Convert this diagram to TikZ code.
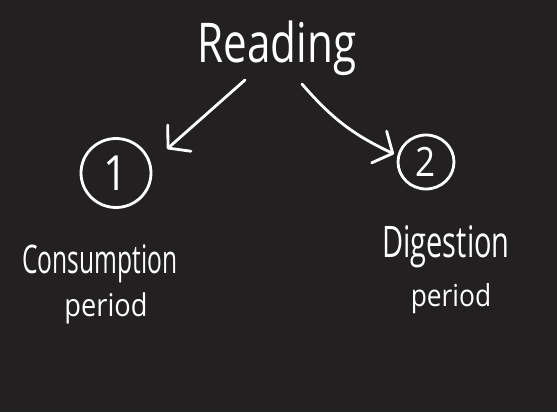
\documentclass[tikz,border=0pt]{standalone}
\usepackage{graphicx}
\usepackage{fontspec}
\setmainfont{Open Sans}
\usetikzlibrary{arrows.meta,shapes.geometric}
\definecolor{board}{RGB}{34,32,32}
\newcommand{\tallword}[2][1.3]{\scalebox{1}[#1]{#2}}

\begin{document}
\begin{tikzpicture}
  [x=0.02cm,y=-0.02cm,every node/.style={text=white,inner sep=0pt},
   chalk/.style={draw=white,line width=1.6pt,line cap=round},
   ring/.style={ellipse,chalk},
   word/.style={anchor=base},
   arr/.style={chalk,-{Straight Barb[length=3mm,width=7mm,round]}}]
  \fill[board] (0,0) rectangle (557,412);
  \useasboundingbox (0,0) rectangle (557,412);
  % title
  \node[word,font=\fontsize{24}{28}\selectfont] (read) at (277,63) {\tallword{Reading}};
  % numbered rings
  \node[ring,minimum width=1.4cm,minimum height=1.38cm,font=\fontsize{24}{28}\selectfont] (one) at (116,173) {\tallword[1.15]{1}};
  \node[ring,minimum width=1.12cm,minimum height=1.08cm,font=\fontsize{20}{24}\selectfont] (two) at (426,162) {\tallword[1.15]{2}};
  % labels
  \node[word,font=\fontsize{14}{16}\selectfont] (cons) at (100,273) {\tallword[1.6]{Consumption}};
  \node[word,font=\fontsize{15.5}{18}\selectfont] (consp) at (106,316) {\tallword[1.15]{period}};
  \node[word,font=\fontsize{16.5}{18}\selectfont] (dige) at (446,257) {\tallword[1.5]{Digestion}};
  \node[word,font=\fontsize{15}{18}\selectfont] (digep) at (451,306) {\tallword[1.15]{period}};
  % arrows
  \coordinate (a1) at (245,80);
  \coordinate (b1) at (167,149);
  \coordinate (a2) at (302,84);
  \coordinate (b2) at (394,154);
  \draw[arr] (a1) -- (b1);
  \draw[arr] (a2) to[bend right=12] (b2);
\end{tikzpicture}
\end{document}
